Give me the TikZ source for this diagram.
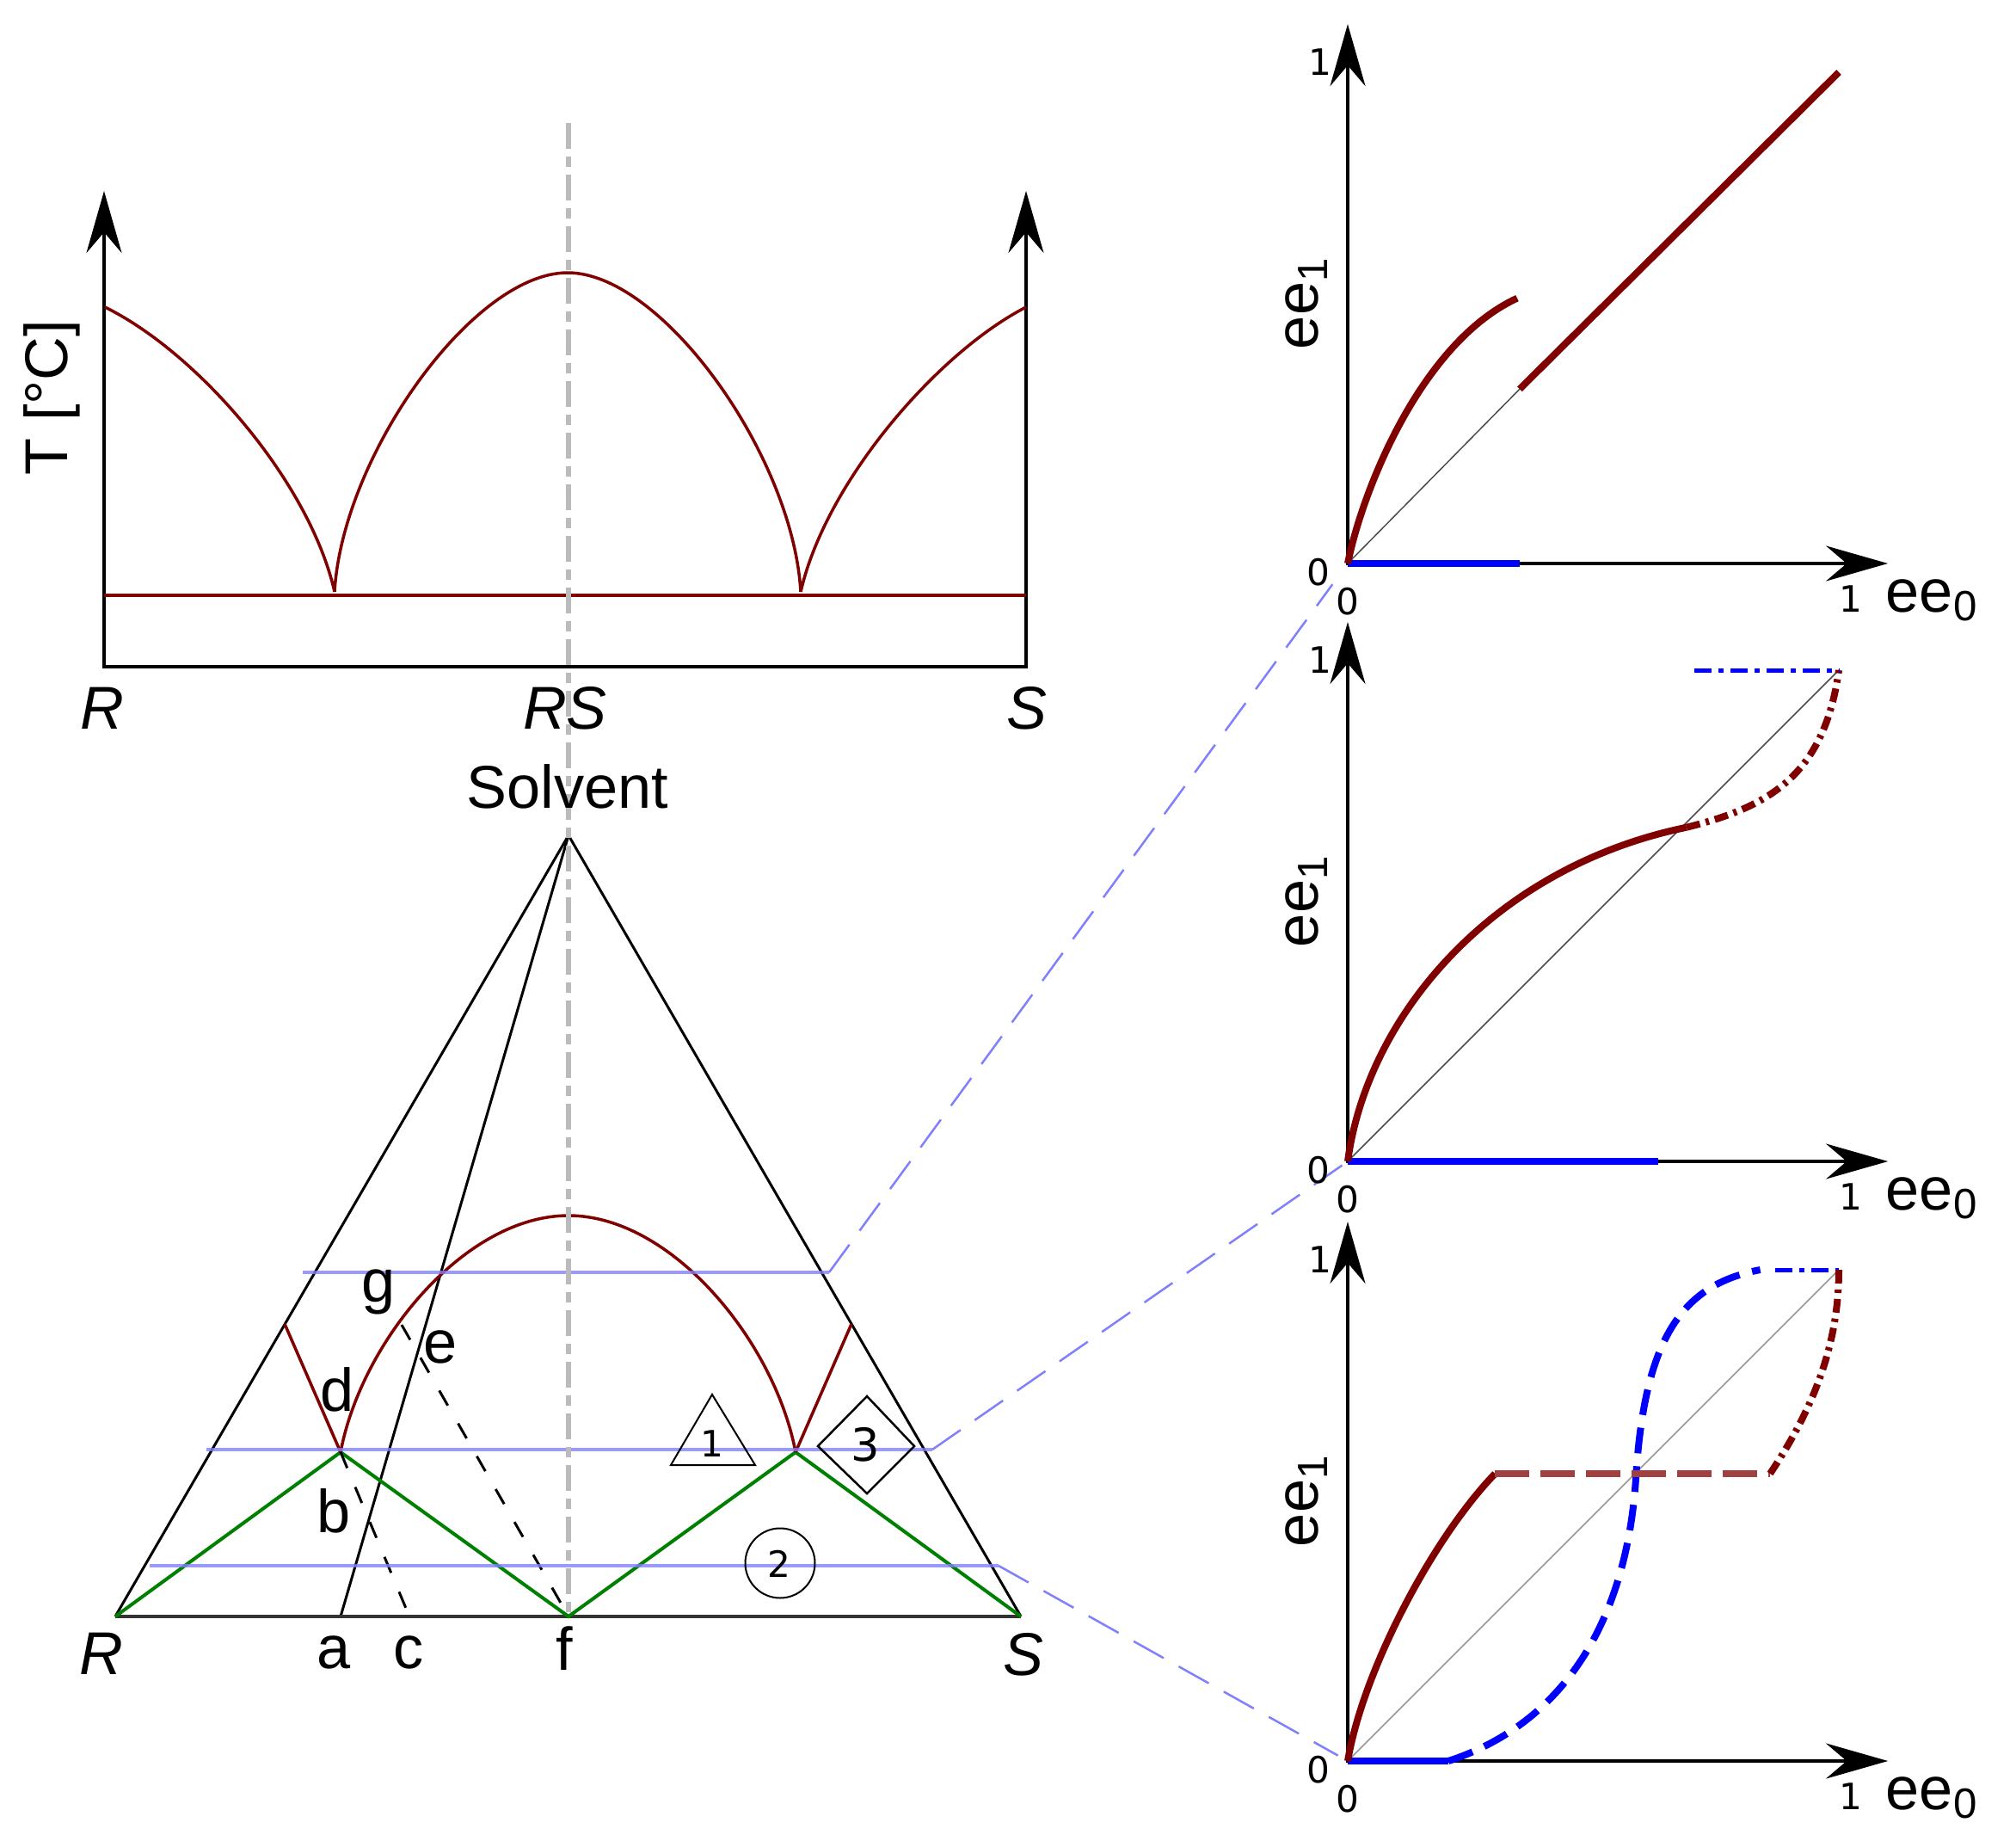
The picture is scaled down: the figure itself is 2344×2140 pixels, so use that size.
\documentclass[tikz,border=0pt]{standalone}
\usepackage{fontspec}
\setmainfont{Liberation Sans}
\newfontfamily\tickfont{DejaVu Sans}
\usetikzlibrary{arrows.meta, positioning}

\definecolor{liqcol}{HTML}{800000}
\definecolor{solcol}{HTML}{008000}
\definecolor{cutcol}{HTML}{8080FF}
\definecolor{eecol}{HTML}{0000FF}
\definecolor{rscol}{HTML}{BBBBBB}

\tikzset{
  lbl/.style={font=\fontsize{20}{24}\selectfont},
  itlbl/.style={font=\fontsize{20}{24}\selectfont\itshape},
  tick/.style={font=\tickfont\fontsize{12}{14}\selectfont},
  digit/.style={font=\tickfont\fontsize{12}{14}\selectfont},
  side/.style={line width=0.3mm},
  liq/.style={liqcol, line width=0.35mm},
  sol/.style={solcol, line width=0.4mm, line join=miter},
  guide/.style={line width=0.3mm, dash pattern=on 2mm off 2.4mm},
  cut/.style={cutcol, line width=0.45mm, opacity=0.8},
  link/.style={cutcol, line width=0.25mm, dash pattern=on 4mm off 2mm},
  rsline/.style={rscol, line width=0.65mm, dash pattern=on 3mm off 0.9mm on 1.2mm off 0.9mm},
  eeaxes/.style={line width=0.4mm, <->},
  diag/.style={black!70, line width=0.15mm},
  eeline/.style={line width=0.8mm},
  dashdot/.style={dash pattern=on 1.6mm off 0.7mm on 0.4mm off 0.7mm},
}

\begin{document}
\begin{tikzpicture}[x=0.1mm, y=-0.1mm, >={Stealth[length=7.2mm,width=4.1mm,inset=2.4mm]}]
\useasboundingbox (0,0) rectangle (2344,2140);

% melting point diagram R -- RS -- S
\draw[line width=0.4mm, <->] (121,222) -- (121,775) -- (1193,775) -- (1193,222);
\draw[liq] (121,692) -- (1193,692);
\draw[liq] (122,357) .. controls (230,410) and (360,560) .. (389,688);
\draw[liq] (389,688) .. controls (398,530) and (550,317) .. (660,317)
  .. controls (770,317) and (922,530) .. (931,688);
\draw[liq] (931,688) .. controls (960,560) and (1090,410) .. (1193,357);

% ternary phase diagram
\coordinate (solv) at (661,971);
\coordinate (tR) at (134,1879);
\coordinate (tS) at (1187,1879);
\coordinate (a) at (396,1879);
\coordinate (c) at (476,1879);
\coordinate (f) at (661,1879);
\coordinate (eL) at (396,1688);
\coordinate (eR) at (925,1688);
\coordinate (h) at (467,1540);

\draw[side] (tR) -- (solv) -- (tS);
\draw[side] (a) -- (solv);
\draw[line width=0.45mm, black!80] (tR) -- (tS);
\draw[sol] (tR) -- (eL) -- (f) -- (eR) -- (tS);
\draw[liq] (331,1539) -- (eL);
\draw[liq] (eL) .. controls (420,1560) and (540,1413) .. (661,1413)
  .. controls (781,1413) and (901,1560) .. (eR);
\draw[liq] (eR) -- (990,1539);
\draw[guide] (eL) -- (c);
\draw[guide] (h) -- (f);

% isothermal cuts
\coordinate (cut1) at (964,1479);
\coordinate (cut2) at (1084,1685);
\coordinate (cut3) at (1161,1820);
\draw[cut] (352,1479) -- (cut1);
\draw[cut] (240,1685) -- (cut2);
\draw[cut] (174,1820) -- (cut3);

% regions
\draw[line width=0.2mm] (828,1621) -- (878,1703) -- (780,1703) -- cycle;
\node[digit] (m1) at (828,1678) {1};
\draw[line width=0.25mm] (1008,1623) -- (1063,1681) -- (1008,1736) -- (951,1681) -- cycle;
\node[digit, font=\tickfont\fontsize{15}{17}\selectfont] (m3) at (1006,1679) {3};
\draw[line width=0.2mm] (907,1817) circle[radius=4.05mm];
\node[digit] (m2) at (906,1818) {2};

\draw[rsline] (661,143) -- (f);

% labels
\node[lbl, rotate=90] (temp) at (60,462) {T [°C]};
\node[itlbl] (topR) at (119,823) {R};
\node[itlbl] (topRS) at (657,823) {RS};
\node[itlbl] (topS) at (1194,823) {S};
\node[lbl] (solvent) at (660,914) {Solvent};
\node[itlbl] (botR) at (118,1922) {R};
\node[itlbl] (botS) at (1190,1923) {S};
\node[lbl] (la) at (388,1921) {a};
\node[lbl] (lc) at (475,1921) {c};
\node[lbl] (lf) at (656,1916) {f};
\node[lbl] (lg) at (440,1502) {g};
\node[lbl] (le) at (512,1566) {e};
\node[lbl] (ld) at (392,1615) {d};
\node[lbl] (lb) at (388,1756) {b};

% ee diagrams
\coordinate (o1) at (1567,655);
\coordinate (o2) at (1567,1350);
\coordinate (o3) at (1567,2047);
\draw[link, shorten >=3mm] (cut1) -- (o1);
\draw[link, shorten >=0.8mm] (cut2) -- (o2);
\draw[link, shorten >=1.3mm] (cut3) -- (o3);

\foreach \o in {o1,o2,o3} {
  \begin{scope}[shift={(\o)}, x=57.1mm, y=57.1mm]
    \draw[eeaxes] (0,1.098) -- (0,0) -- (1.1,0);
    \node[tick] (\o-y1) at (-0.056,1.02) {1};
    \node[tick] (\o-y0) at (-0.06,-0.017) {0};
    \node[tick] (\o-x0) at (0,-0.077) {0};
    \node[tick] (\o-x1) at (1.025,-0.072) {1};
    \node[lbl] (\o-x) at (1.19,-0.075) {ee\textsubscript{0}};
    \node[lbl, rotate=90] (\o-y) at (-0.084,0.53) {ee\textsubscript{1}};
  \end{scope}
}

\begin{scope}[shift={(o1)}, x=57.1mm, y=57.1mm]
  \draw[diag] (0,0) -- (0.35,0.355);
  \draw[eeline, eecol] (0,0) -- (0.35,0);
  \draw[eeline, liqcol] (0,0) .. controls (0.03,0.15) and (0.15,0.45) .. (0.345,0.54);
  \draw[eeline, liqcol] (0.35,0.355) -- (1,1);
\end{scope}

\begin{scope}[shift={(o2)}, x=57.1mm, y=57.1mm]
  \draw[diag] (0,0) -- (1,1);
  \draw[eeline, eecol] (0,0) -- (0.633,0);
  \draw[eeline, liqcol] (0,0) .. controls (0.04,0.3) and (0.3,0.6) .. (0.69,0.68);
  \draw[eeline, liqcol, dashdot] (0.69,0.68) .. controls (0.85,0.72) and (0.97,0.78) .. (1,1);
  \draw[eecol, line width=0.5mm, dash pattern=on 2mm off 0.8mm on 0.6mm off 0.8mm] (0.705,1) -- (1,1);
\end{scope}

\begin{scope}[shift={(o3)}, x=57.1mm, y=57.1mm]
  \draw[black!40, line width=0.15mm] (0,0) -- (1,1);
  \draw[eeline, eecol] (0,0) -- (0.205,0);
  \draw[eeline, eecol, dash pattern=on 3mm off 1.5mm] (0.205,0) .. controls (0.45,0.08) and (0.57,0.3) .. (0.587,0.58)
    .. controls (0.605,0.86) and (0.68,0.97) .. (0.84,1);
  \draw[eecol, line width=0.5mm, dash pattern=on 2mm off 0.8mm on 0.6mm off 0.8mm] (0.87,1) -- (1,1);
  \draw[eeline, liqcol] (0,0) .. controls (0.03,0.18) and (0.17,0.45) .. (0.3,0.585);
  \draw[eeline, liqcol!75, dash pattern=on 4mm off 1.3mm] (0.3,0.585) -- (0.86,0.585);
  \draw[eeline, liqcol, dashdot] (0.86,0.585) .. controls (0.95,0.72) and (1,0.85) .. (1,1);
\end{scope}
\end{tikzpicture}
\end{document}
